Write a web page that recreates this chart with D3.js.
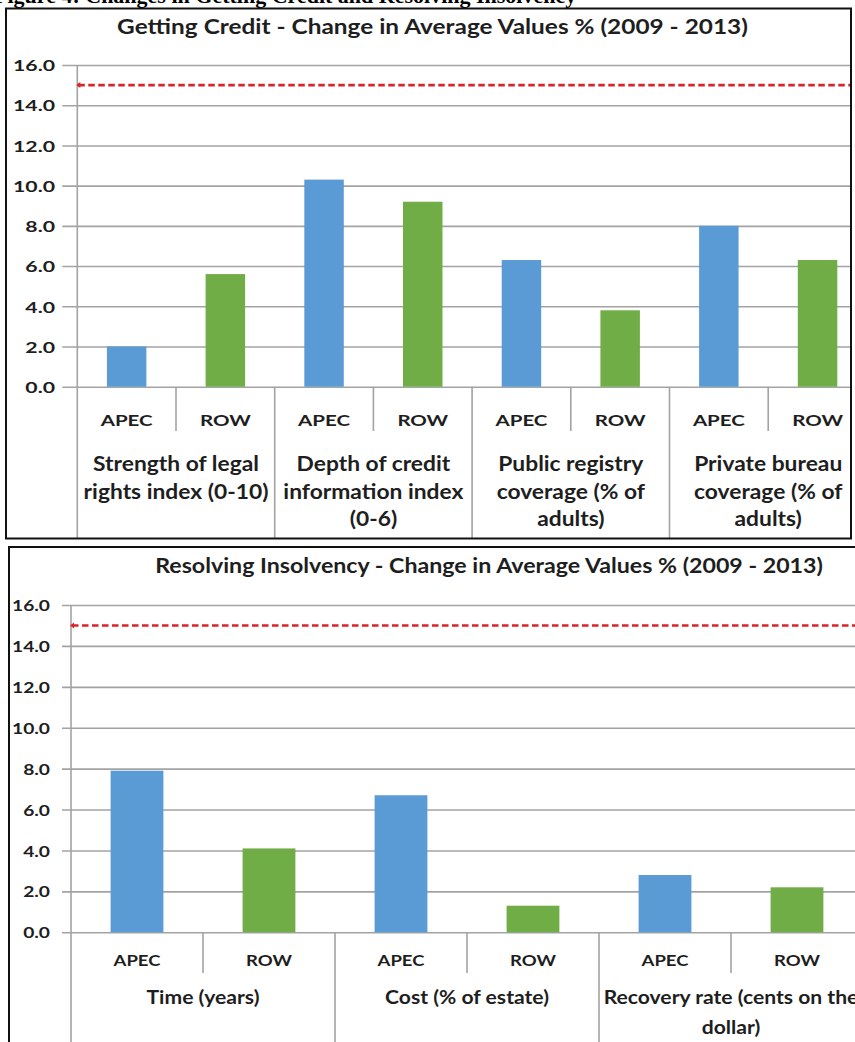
<!DOCTYPE html>
<html><head><meta charset="utf-8">
<script src="https://cdn.jsdelivr.net/npm/d3@7"></script>
<style>
body{margin:0;background:#fff;overflow:hidden}
svg text{font-family:Lato,'Open Sans',sans-serif;font-weight:700;fill:#1e1e1e}
svg text.cap{font-family:'Liberation Serif',serif;fill:#000}
</style>
</head><body>
<svg id="c" width="855" height="1042"></svg>
<script>
// ---------- data ----------
const seriesNames = ["APEC", "ROW"];
const figureCaption = "Figure 4: Changes in Getting Credit and Resolving Insolvency";

const creditTitle = "Getting Credit - Change in Average Values % (2009 - 2013)";
const creditGroups = [
  ["Strength of legal", "rights index (0-10)"],
  ["Depth of credit", "information index", "(0-6)"],
  ["Public registry", "coverage (% of", "adults)"],
  ["Private bureau", "coverage (% of", "adults)"]
];
const creditAPEC = [2.0, 10.3, 6.3, 8.0];
const creditROW  = [5.6, 9.2, 3.8, 6.3];

const insolTitle = "Resolving Insolvency - Change in Average Values % (2009 - 2013)";
const insolGroups = [
  ["Time (years)"],
  ["Cost (% of estate)"],
  ["Recovery rate (cents on the", "dollar)"]
];
const insolAPEC = [7.9, 6.7, 2.8];
const insolROW  = [4.1, 1.3, 2.2];

const yTickValues = [0, 2, 4, 6, 8, 10, 12, 14, 16];
const yDomain = [0, 16];
const targetLine = 15.0;

// ---------- style ----------
const W = 855, H = 1042;
const colors = {APEC: "#5b9bd5", ROW: "#70ad47"};
const grid = "#a3a3a3";
const svg = d3.select("#c");

function measure(str, size) {
  const t = svg.append("text").style("font-size", size + "px").text(str);
  const w = t.node().getComputedTextLength();
  t.remove();
  return w;
}
function sText(g, str, x, y, size, sx, anchor) {
  return g.append("text")
    .attr("transform", `translate(${x},${y}) scale(${sx},1)`)
    .attr("text-anchor", anchor || "middle")
    .style("font-size", size + "px")
    .text(str);
}

// caption mostly cut off at the top edge, as in the reference
svg.append("text").attr("class", "cap").attr("x", -6).attr("y", 3)
  .style("font-size", "22px").text(figureCaption);

function drawChart(o, id) {
  svg.append("clipPath").attr("id", id).append("rect")
    .attr("x", o.box[0]).attr("y", o.box[1]).attr("width", o.box[2]).attr("height", o.box[3]);
  const g = svg.append("g").attr("clip-path", `url(#${id})`);
  g.append("rect").attr("x", o.box[0]).attr("y", o.box[1]).attr("width", o.box[2]).attr("height", o.box[3]).attr("fill", "#fff");

  const n = o.groups.length * 2;
  const keys = o.groups.flatMap((_, i) => seriesNames.map(s => i + "|" + s));
  const x = d3.scaleBand().domain(keys).range([o.left, o.left + n * o.step])
    .paddingInner(0.6).paddingOuter(0.3);
  const y = d3.scaleLinear().domain(yDomain).range([o.y0, o.y16]);
  const boxBottom = o.box[1] + o.box[3];

  // axis + gridlines
  const sxTick = o.tickW / measure("16.0", o.tickSize);
  const ax = g.append("g").attr("transform", `translate(${o.left},0)`)
    .call(d3.axisLeft(y).tickValues(yTickValues).tickFormat(d3.format(".1f"))
      .tickSize(-(W + 300)).tickPadding(0));
  ax.select(".domain").remove();
  ax.selectAll(".tick line").attr("x1", -o.tickOut).attr("stroke", grid).attr("stroke-width", 1.6);
  ax.selectAll(".tick text").attr("x", null).attr("dy", null)
    .attr("text-anchor", "end")
    .attr("transform", `translate(${o.labelRight - o.left},${o.tickSize * 0.36}) scale(${sxTick},1)`)
    .style("font-size", o.tickSize + "px");

  // vertical axis + separators
  g.append("line").attr("x1", o.left).attr("x2", o.left).attr("y1", y(16)).attr("y2", boxBottom)
    .attr("stroke", grid).attr("stroke-width", 1.6);
  d3.range(1, n + 1).forEach(i => {
    const xx = o.left + i * o.step;
    g.append("line").attr("x1", xx).attr("x2", xx).attr("y1", o.y0)
      .attr("y2", i % 2 ? o.innerBottom : boxBottom)
      .attr("stroke", grid).attr("stroke-width", 1.6);
  });

  // bars
  const rows = o.groups.flatMap((_, i) => [
    {key: i + "|APEC", s: "APEC", v: o.apec[i]},
    {key: i + "|ROW", s: "ROW", v: o.row[i]}
  ]);
  g.selectAll("rect.bar").data(rows).join("rect").attr("class", "bar")
    .attr("x", d => x(d.key)).attr("width", x.bandwidth())
    .attr("y", d => y(d.v)).attr("height", d => y(0) - y(d.v))
    .attr("fill", d => colors[d.s]);

  // target line
  g.append("line").attr("x1", o.left + 1).attr("x2", W + 300)
    .attr("y1", y(targetLine)).attr("y2", y(targetLine))
    .attr("stroke", "#d9232b").attr("stroke-width", 2.6).attr("stroke-dasharray", "6.5,3.5");
  g.append("path").attr("d", `M${o.left - 1},${y(targetLine)} l4,-3 v6 z`).attr("fill", "#d9232b");

  // category labels
  const sxCat = o.catW / measure("APEC", o.catSize);
  rows.forEach(d => sText(g, d.s, x(d.key) + x.bandwidth() / 2, o.catBase, o.catSize, sxCat));

  // group labels
  const sxGrp = o.grpW / measure(o.groups[0][0], o.grpSize);
  o.groups.forEach((lines, i) => {
    const cx = o.left + (2 * i + 1) * o.step;
    lines.forEach((l, j) => sText(g, l, cx, o.grpBase + j * o.grpLead, o.grpSize, sxGrp));
  });

  // title
  const sxT = o.titleW / measure(o.title, o.titleSize);
  sText(g, o.title, o.titleX, o.titleBase, o.titleSize, sxT);

  // border
  svg.append("rect").attr("x", o.box[0]).attr("y", o.box[1]).attr("width", o.box[2]).attr("height", o.box[3])
    .attr("fill", "none").attr("stroke", "#111").attr("stroke-width", 2);
}

drawChart({
  box: [6, 8.5, 845, 530],
  title: creditTitle, titleX: 432.5, titleBase: 34, titleSize: 21, titleW: 631,
  groups: creditGroups, apec: creditAPEC, row: creditROW,
  left: 77.3, step: 98.7, y0: 386.7, y16: 65,
  tickSize: 16, tickW: 42, labelRight: 55, tickOut: 15,
  catSize: 16, catW: 52, catBase: 425.5, innerBottom: 431,
  grpSize: 20, grpW: 166, grpBase: 471, grpLead: 27.5
}, "clipA");

drawChart({
  box: [9, 547, 1000, 600],
  title: insolTitle, titleX: 489, titleBase: 572.5, titleSize: 20, titleW: 668,
  groups: insolGroups, apec: insolAPEC, row: insolROW,
  left: 71, step: 132, y0: 932.3, y16: 605,
  tickSize: 15.5, tickW: 38, labelRight: 50, tickOut: 9,
  catSize: 15.5, catW: 47, catBase: 966, innerBottom: 973,
  grpSize: 18.5, grpW: 113, grpBase: 1004, grpLead: 30
}, "clipB");
</script>
</body></html>
